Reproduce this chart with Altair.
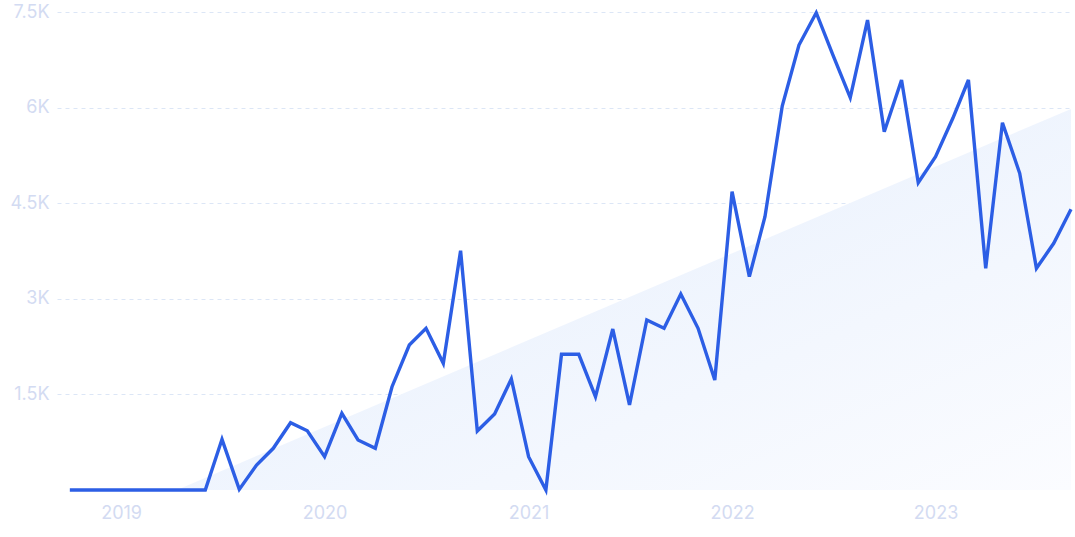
import altair as alt
import pandas as pd

# Monthly values, Oct 2018 .. Sep 2023
months = pd.date_range("2018-10-01", "2023-09-01", freq="MS").strftime("%Y-%m-%d").tolist()
values = [
    0, 0, 0, 0, 0, 0, 0, 0, 0, 795,          # Oct18..Jul19
    10, 392, 654, 1056, 930, 523, 1203, 785, 654, 1621,  # Aug19..May20
    2275, 2537, 1988, 3755, 926, 1192, 1742, 523, 0, 2129,  # Jun20..Mar21
    2129, 1464, 2526, 1334, 2667, 2537, 3075, 2537, 1726, 4681,  # Apr21..Jan22
    3347, 4289, 6025, 6982, 7489, 6825, 6156, 7374, 5622, 6433,  # Feb22..Nov22
    4822, 5230, 5832, 6433, 3478, 5763, 4969, 3478, 3871, 4404,  # Dec22..Sep23
]

# Trend band (start and end)
trend_dates = ["2019-04-11", "2023-09-01"]
trend_values = [0, 5980]

year_ticks = [2019, 2020, 2021, 2022, 2023]
y_ticks = [1500, 3000, 4500, 6000, 7500]

df = pd.DataFrame({"date": months, "value": values})
trend = pd.DataFrame({"date": trend_dates, "value": trend_values})

label_color = "#d3dbf2"
font = "Inter"

x_scale = alt.Scale(type="utc", domain=[alt.DateTime(year=2018, month=9, date=8, utc=True),
                                        alt.DateTime(year=2023, month=9, date=1, utc=True)])
y_scale = alt.Scale(domain=[0, 7500], nice=False)

x_axis = alt.Axis(
    values=[alt.DateTime(year=y, month=1, date=1, utc=True) for y in year_ticks],
    format="%Y", grid=False, domain=False, ticks=False,
    labelColor=label_color, labelFontSize=18, labelFont=font, labelPadding=14, title=None,
)
y_axis = alt.Axis(
    values=y_ticks, labelExpr="datum.value / 1000 + 'K'",
    grid=True, gridColor="#dce6f6", gridDash=[4, 4], gridWidth=1,
    domain=False, ticks=False, labelColor=label_color, labelFontSize=18, labelFont=font,
    labelPadding=8, title=None,
)

area = alt.Chart(trend).mark_area(
    color=alt.Gradient(
        gradient="linear",
        stops=[alt.GradientStop(color="#e3edfc", offset=0), alt.GradientStop(color="#fbfcff", offset=1)],
        x1=0, y1=0, x2=1, y2=1,
    )
).encode(
    x=alt.X("date:T", scale=x_scale, axis=x_axis),
    y=alt.Y("value:Q", scale=y_scale, axis=y_axis),
)

line = alt.Chart(df).mark_line(color="#2c5ee5", strokeWidth=3.4).encode(
    x=alt.X("date:T", scale=x_scale),
    y=alt.Y("value:Q", scale=y_scale),
)

chart = (area + line).properties(
    width=1014, height=478,
    padding={"left": 57, "top": 12, "right": 4, "bottom": 47},
    autosize=alt.AutoSizeParams(type="none"),
    background="white",
).configure_view(stroke=None, strokeWidth=0)

chart.save("out.html", embed_options={"renderer": "svg", "actions": False})
